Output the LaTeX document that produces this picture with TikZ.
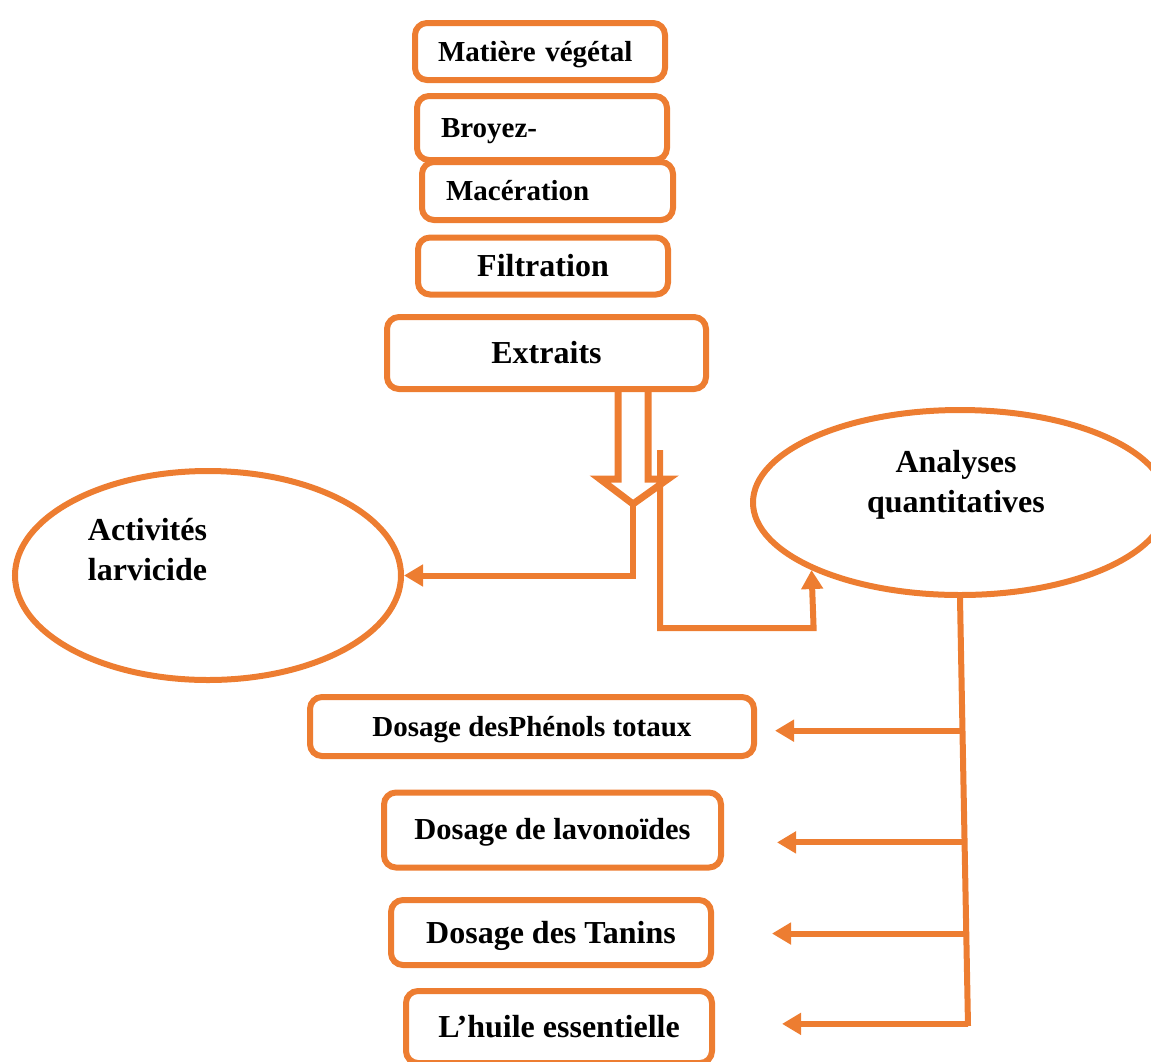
\documentclass[tikz,border=0pt]{standalone}
\usepackage{fontspec}
\setmainfont{Liberation Serif}
\usepackage{xcolor}
\usetikzlibrary{calc, shapes.geometric, arrows.meta}
\definecolor{boxorange}{HTML}{ED7D31}

\begin{document}
\begin{tikzpicture}[x=1pt, y=-1pt,
        box/.style={draw=boxorange, line width=6pt, rounded corners=12pt, fill=white, inner ysep=0pt},
        oval/.style={draw=boxorange, line width=6pt, ellipse, inner sep=0pt},
        conn/.style={draw=boxorange, line width=6pt, -{Triangle[length=19pt, width=21pt]}},
        mid/.style={font=\bfseries\fontsize{29}{36}\selectfont, text height=26pt, text depth=7pt},
        big/.style={font=\bfseries\fontsize{32}{40}\selectfont, text height=29pt, text depth=8pt}]
        \useasboundingbox (0, 0) rectangle (1151, 1061);

        % extraction steps
        \node[box, mid, minimum height=57pt, inner xsep=23pt, text width=204pt, align=left] (mat) at (540, 51.5) {Matière végétal};
        \node[box, mid, minimum height=58pt, inner xsep=24pt, text width=203pt, align=left] (mac) at (547.5, 191) {Macération};
        \node[box, mid, minimum height=64pt, inner xsep=24pt, text width=202pt, align=left] (broy) at (542, 128) {Broyez-};
        \node[box, big, minimum width=250pt, minimum height=57pt, inner xsep=0pt] (filt) at (543, 266) {Filtration};
        \node[box, big, minimum width=319pt, minimum height=72pt, inner xsep=0pt] (extr) at (546.5, 353) {Extraits};

        %%%

        \draw[boxorange, line width=7pt, line join=miter] (618, 390) -- (618, 479) -- (600, 479)
            -- (633, 504) coordinate (tip) -- (668, 479) -- (648, 479) -- (648, 390);

        \node[oval, minimum width=386pt, minimum height=209pt] (act) at (208, 575.5) {};
        \node[font=\bfseries\fontsize{32}{40}\selectfont, align=left] (actlbl) at (147.5, 550) {Activités\\larvicide};

        \node[oval, minimum width=414pt, minimum height=185pt] (ana) at (960, 502.5) {};
        \node[font=\bfseries\fontsize{32}{40}\selectfont, align=center] (analbl) at (956, 485) {Analyses\\quantitatives};

        \draw[conn] (tip) |- (act.east);

        \coordinate (split) at (660, 450);
        \coordinate (elbow) at (813.6, 628);
        \draw[conn] (split) |- (elbow) -- (ana.south west);

        %%%

        \node[box, mid, minimum width=444pt, minimum height=59pt, inner xsep=0pt] (phen) at (532, 726.5) {Dosage desPhénols totaux};
        \node[box, mid, font=\bfseries\fontsize{30.5}{36}\selectfont, minimum width=337pt, minimum height=75pt, inner xsep=0pt] (lav) at (552.5, 830) {Dosage de lavonoïdes};
        \node[box, big, minimum width=320pt, minimum height=65pt, inner xsep=0pt] (tan) at (551, 932.5) {Dosage des Tanins};
        \node[box, big, minimum width=306pt, minimum height=72pt, inner xsep=0pt] (huile) at (559, 1027) {L’huile essentielle};

        \coordinate (bot) at (968, 1026);
        \draw[boxorange, line width=6pt] (ana.south) -- (bot);

        \draw[conn, shorten >=18pt] ($(ana.south)!0.31!(bot)$) coordinate (b1) -- (b1 -| phen.east);
        \draw[conn, shorten >=53pt] ($(ana.south)!0.571!(bot)$) coordinate (b2) -- (b2 -| lav.east);
        \draw[conn, shorten >=58pt] ($(ana.south)!0.784!(bot)$) coordinate (b3) -- (b3 -| tan.east);
        \draw[conn, shorten >=67pt] ($(ana.south)!0.995!(bot)$) coordinate (b4) -- (b4 -| huile.east);
    \end{tikzpicture}
\end{document}
